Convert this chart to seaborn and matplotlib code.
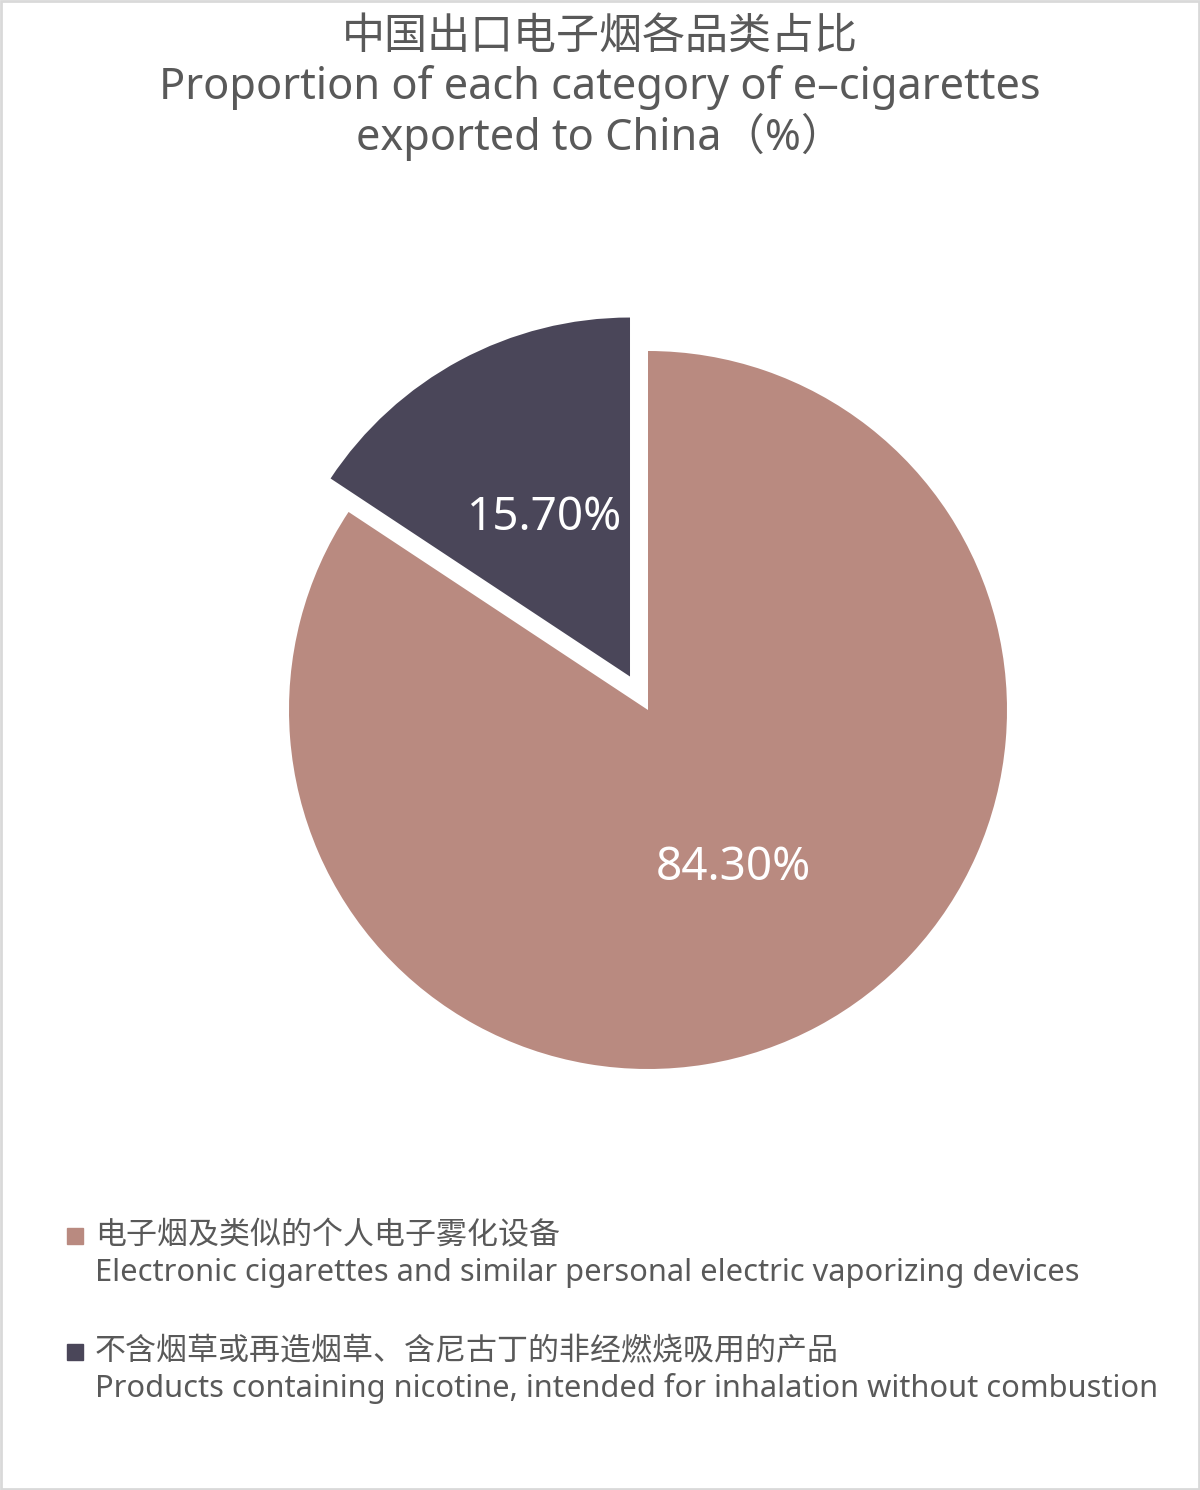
import seaborn as sns
import matplotlib.pyplot as plt
from matplotlib.patches import Rectangle

# data
categories_cn = ["电子烟及类似的个人电子雾化设备",
                 "不含烟草或再造烟草、含尼古丁的非经燃烧吸用的产品"]
categories_en = ["Electronic cigarettes and similar personal electric vaporizing devices",
                 "Products containing nicotine, intended for inhalation without combustion"]
shares = [84.3, 15.7]
colors = ["#b98a80", "#4a4659"]

title_cn = "中国出口电子烟各品类占比"
title_en = ["Proportion of each category of e\u2013cigarettes",
            "exported to China（%）"]

sns.set_theme(style="white")
plt.rcParams["font.family"] = ["Noto Sans CJK SC", "DejaVu Sans"]
LATIN = ["Noto Sans", "Noto Sans CJK SC", "DejaVu Sans"]
TXT = "#595959"

W, H = 1200, 1490
fig = plt.figure(figsize=(W / 100, H / 100), dpi=100)
ax = fig.add_axes([0, 0, 1, 1])

wedges, texts, autotexts = ax.pie(
    shares, colors=colors, startangle=90, counterclock=False,
    center=(648, H - 710), radius=359, explode=[0, 38],
    autopct="%.2f%%", pctdistance=0.5,
    textprops=dict(color="white", fontsize=33, family=LATIN),
    wedgeprops=dict(linewidth=0))
ax.set_xlim(0, W)
ax.set_ylim(0, H)
ax.set_aspect("equal")
ax.axis("off")

# title
fig.text(0.5, 1 - 37 / H, title_cn, ha="center", va="center", fontsize=31, color=TXT)
for y, line in zip([87, 137], title_en):
    fig.text(0.5, 1 - y / H, line, ha="center", va="center",
             fontsize=31.2, color=TXT, family=LATIN)

# legend (manual)
for i, (cn, en) in enumerate(zip(categories_cn, categories_en)):
    yc = 1236 + i * 116
    fig.patches.append(Rectangle((67 / W, 1 - (yc + 8) / H), 16 / W, 16 / H,
                                 transform=fig.transFigure, color=colors[i]))
    fig.text(95 / W, 1 - yc / H, cn, ha="left", va="center", fontsize=22.3, color=TXT)
    fig.text(95 / W, 1 - (yc + 37) / H, en, ha="left", va="center", fontsize=22.2,
             color=TXT, family=LATIN)

# outer frame
fig.patches.append(Rectangle((0.001, 0.001), 0.998, 0.998, transform=fig.transFigure,
                             fill=False, edgecolor="#d9d9d9", linewidth=2))

fig.savefig("out.png", dpi=100, facecolor="white")
